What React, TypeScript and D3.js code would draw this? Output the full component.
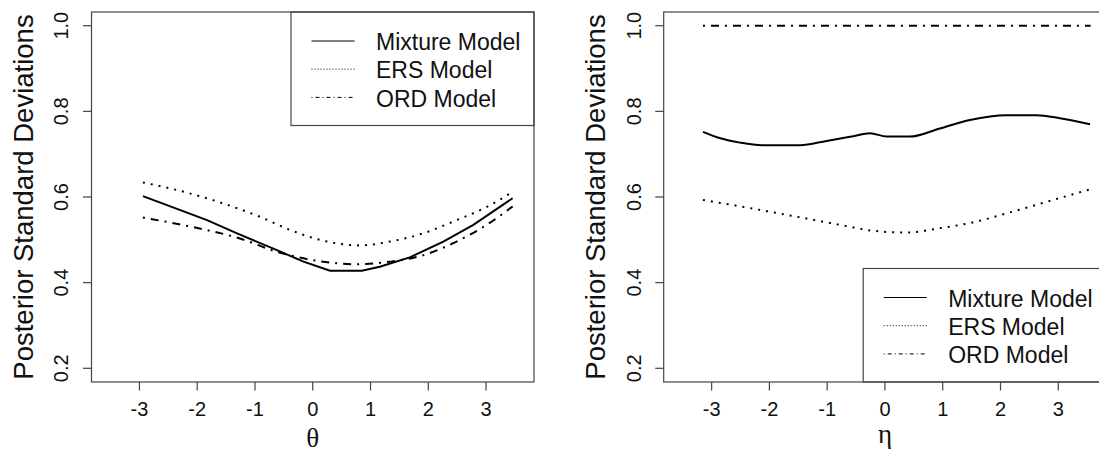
import React from "react";
import * as d3 from "d3";

// ---------- data ----------
const xTicks = [-3, -2, -1, 0, 1, 2, 3];
const yTicks = [0.2, 0.4, 0.6, 0.8, 1.0];
const legendLabels = ["Mixture Model", "ERS Model", "ORD Model"];
const yTitle = "Posterior Standard Deviations";

// Left panel (theta)
const thetaMixX = [-2.94, -1.83, -1.31, -0.62, -0.16, 0.30, 0.85, 1.16, 1.68, 2.26, 2.78, 3.46];
const thetaMixY = [0.602, 0.546, 0.515, 0.476, 0.449, 0.428, 0.428, 0.437, 0.459, 0.496, 0.535, 0.597];
const thetaErsX = [-2.94, -2.2, -1.55, -0.9, -0.39, 0.18, 0.82, 1.34, 1.91, 2.49, 3.0, 3.46];
const thetaErsY = [0.634, 0.611, 0.585, 0.553, 0.523, 0.498, 0.487, 0.496, 0.515, 0.546, 0.576, 0.612];
const thetaOrdX = [-2.94, -2.12, -1.26, -0.62, 0.18, 0.76, 1.34, 1.91, 2.49, 3.0, 3.46];
const thetaOrdY = [0.552, 0.531, 0.503, 0.472, 0.449, 0.443, 0.449, 0.464, 0.496, 0.534, 0.578];

// Right panel (eta)
const etaMixX = [-3.15, -2.85, -2.51, -2.13, -1.47, -1.01, -0.55, -0.26, 0.03, 0.43, 0.95, 1.47, 2.11, 2.63, 3.03, 3.55];
const etaMixY = [0.752, 0.737, 0.727, 0.721, 0.721, 0.731, 0.742, 0.749, 0.741, 0.741, 0.760, 0.780, 0.791, 0.791, 0.784, 0.770];
const etaErsX = [-3.15, -2.33, -1.53, -0.78, -0.20, 0.38, 0.95, 1.53, 2.11, 2.68, 3.55];
const etaErsY = [0.593, 0.574, 0.554, 0.535, 0.521, 0.517, 0.527, 0.541, 0.562, 0.584, 0.618];
const etaOrdX = [-3.15, 3.56];
const etaOrdY = [1.0, 1.0];

const xDomain: [number, number] = [-3.83, 3.83];
const yDomain: [number, number] = [0.168, 1.032];

// ---------- layout ----------
const W = 1099;
const H = 453;
const TOP = 12;
const BOTTOM = 382;
const PW = 442.5;

const SANS = "'Liberation Sans', Arial, sans-serif";
const SERIF = "'Liberation Serif', 'Times New Roman', serif";

type Series = { xs: number[]; ys: number[]; dash: string; legendDash: string; curve: d3.CurveFactory };

function Panel({
  left,
  series,
  xLabel,
  xLabelBaseline,
  legendTop,
}: {
  left: number;
  series: Series[];
  xLabel: string;
  xLabelBaseline: number;
  legendTop: number;
}) {
  const x = d3.scaleLinear().domain(xDomain).range([left, left + PW]);
  const y = d3.scaleLinear().domain(yDomain).range([BOTTOM, TOP]);
  const right = left + PW;
  const legendLeft = left + 199.5;
  const legendBottom = legendTop + 113.5;
  const boxColor = "#444";
  return (
    <g>
      {series.map((s, i) => {
        const pts: [number, number][] = s.xs.map((v, j) => [v, s.ys[j]]);
        const line = d3
          .line<[number, number]>()
          .x((d) => x(d[0]))
          .y((d) => y(d[1]))
          .curve(s.curve);
        return (
          <path
            key={i}
            d={line(pts) || ""}
            fill="none"
            stroke="#000"
            strokeWidth={2}
            strokeDasharray={s.dash}
          />
        );
      })}
      {/* legend */}
      <rect
        x={legendLeft}
        y={legendTop}
        width={right - legendLeft}
        height={legendBottom - legendTop}
        fill="#fff"
        stroke={boxColor}
        strokeWidth={1.2}
      />
      {legendLabels.map((lab, i) => (
        <g key={lab}>
          <line
            x1={legendLeft + 20.5}
            x2={legendLeft + 63.5}
            y1={legendTop + 29 + i * 28.2}
            y2={legendTop + 29 + i * 28.2}
            stroke="#000"
            strokeWidth={1}
            strokeDasharray={series[i].legendDash}
          />
          <text
            x={legendLeft + 85}
            y={legendTop + 38 + i * 28.3}
            fontFamily={SANS}
            fontSize={23}
            fill="#111"
          >
            {lab}
          </text>
        </g>
      ))}
      {/* plot box */}
      <rect x={left} y={TOP} width={PW} height={BOTTOM - TOP} fill="none" stroke={boxColor} strokeWidth={1.2} />
      {/* x axis */}
      {xTicks.map((t) => (
        <g key={"x" + t}>
          <line x1={x(t)} x2={x(t)} y1={BOTTOM} y2={BOTTOM + 8.5} stroke={boxColor} strokeWidth={1.2} />
          <text x={x(t)} y={415.5} textAnchor="middle" fontFamily={SANS} fontSize={20} fill="#111">
            {t < 0 ? "-" + Math.abs(t) : String(t)}
          </text>
        </g>
      ))}
      {/* y axis */}
      {yTicks.map((t) => (
        <g key={"y" + t}>
          <line x1={left - 8.5} x2={left} y1={y(t)} y2={y(t)} stroke={boxColor} strokeWidth={1.2} />
          <text
            transform={`translate(${left - 23.2},${y(t)}) rotate(-90)`}
            textAnchor="middle"
            fontFamily={SANS}
            fontSize={20}
            fill="#111"
          >
            {t.toFixed(1)}
          </text>
        </g>
      ))}
      <text
        transform={`translate(${left - 58.5},${(TOP + BOTTOM) / 2}) rotate(-90)`}
        textAnchor="middle"
        fontFamily={SANS}
        fontSize={27.5}
        fill="#111"
      >
        {yTitle}
      </text>
      <text x={x(0)} y={xLabelBaseline} textAnchor="middle" fontFamily={SERIF} fontSize={27} fill="#111">
        {xLabel}
      </text>
    </g>
  );
}

export default function App() {
  const solid = "";
  const dotted = "2,6";
  const dotdash = "2,6,8,6";
  const leftSeries: Series[] = [
    { xs: thetaMixX, ys: thetaMixY, dash: solid, legendDash: "", curve: d3.curveLinear },
    { xs: thetaErsX, ys: thetaErsY, dash: dotted, legendDash: "1,2", curve: d3.curveMonotoneX },
    { xs: thetaOrdX, ys: thetaOrdY, dash: dotdash, legendDash: "1,3,4,3", curve: d3.curveMonotoneX },
  ];
  const rightSeries: Series[] = [
    { xs: etaMixX, ys: etaMixY, dash: solid, legendDash: "", curve: d3.curveMonotoneX },
    { xs: etaErsX, ys: etaErsY, dash: dotted, legendDash: "1,2", curve: d3.curveMonotoneX },
    { xs: etaOrdX, ys: etaOrdY, dash: dotdash, legendDash: "1,3,4,3", curve: d3.curveLinear },
  ];
  return (
    <svg
      width={W}
      height={H}
      viewBox={`0 0 ${W} ${H}`}
      style={{ position: "absolute", left: 0, top: 0, background: "#fff", display: "block" }}
    >
      <rect x={0} y={0} width={W} height={H} fill="#fff" />
      <Panel left={91.5} series={leftSeries} xLabel="θ" xLabelBaseline={447} legendTop={TOP} />
      <Panel left={663.7} series={rightSeries} xLabel="η" xLabelBaseline={443} legendTop={268.5} />
    </svg>
  );
}
